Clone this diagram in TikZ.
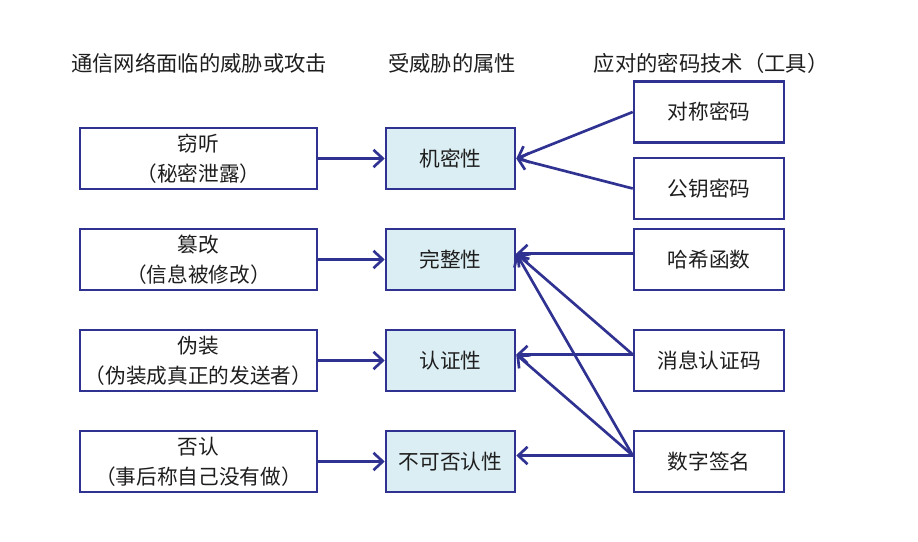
\documentclass[tikz,border=0pt]{standalone}
\usepackage{fontspec}
\setmainfont{Noto Sans CJK SC}
\usetikzlibrary{arrows.meta}
\definecolor{edgeblue}{RGB}{48,50,145}
\definecolor{fillblue}{RGB}{219,238,243}
\definecolor{txt}{RGB}{30,30,30}
\tikzset{
  box/.style={draw=edgeblue, line width=1.9pt, rectangle, inner sep=0pt,
    minimum height=45.75pt, align=center, font=\fontsize{15.5}{22.5}\selectfont, text=txt},
  lbox/.style={box, fill=white, minimum width=177.75pt},
  mbox/.style={box, fill=fillblue, minimum width=96.75pt},
  rbox/.style={box, fill=white, minimum width=112.5pt},
  head/.style={font=\fontsize{16}{20}\selectfont, text=txt, inner sep=0pt},
  conn/.style={draw=edgeblue, line width=2pt, -{Straight Barb[length=7pt,width=13pt,line width=2pt]}}
}
\begin{document}
\begin{tikzpicture}[x=0.75pt,y=-0.75pt]
\useasboundingbox (0,0) rectangle (918,542);
% headers
\node[head] (h1) at (199,63) {通信网络面临的威胁或攻击};
\node[head] (h2) at (452,63) {受威胁的属性};
\node[head] (h3) at (711,63) {应对的密码技术（工具）};
% left boxes
\node[lbox] (l1) at (198.5,158.5) {窃听\\（秘密泄露）};
\node[lbox] (l2) at (198.5,259.5) {篡改\\（信息被修改）};
\node[lbox] (l3) at (198.5,360.5) {伪装\\（伪装成真正的发送者）};
\node[lbox] (l4) at (198.5,461.5) {否认\\（事后称自己没有做）};
% middle boxes
\node[mbox] (m1) at (450.5,158.5) {机密性};
\node[mbox] (m2) at (450.5,259.5) {完整性};
\node[mbox] (m3) at (450.5,360.5) {认证性};
\node[mbox] (m4) at (450.5,461.5) {不可否认性};
% right boxes
\node[rbox] (r1) at (709,112) {对称密码};
\node[rbox] (r2) at (709,188.5) {公钥密码};
\node[rbox] (r3) at (709,259.5) {哈希函数};
\node[rbox] (r4) at (709,360.5) {消息认证码};
\node[rbox] (r5) at (709,461.5) {数字签名};
% anchor points
\coordinate (m2in) at ([yshift=4.5pt]m2.east);
\coordinate (m3in) at ([yshift=4.5pt]m3.east);
\coordinate (m4in) at ([yshift=4.5pt]m4.east);
\coordinate (r3out) at ([yshift=4.5pt]r3.west);
\coordinate (r4out) at ([yshift=4.5pt]r4.west);
\coordinate (r5out) at ([yshift=4.5pt]r5.west);
% left arrows
\draw[conn] (l1.east) -- (m1.west);
\draw[conn] (l2.east) -- (m2.west);
\draw[conn] (l3.east) -- (m3.west);
\draw[conn] (l4.east) -- (m4.west);
% right arrows
\draw[conn] (r1.west) -- (m1.east);
\draw[conn] (r2.west) -- (m1.east);
\draw[conn] (r3out) -- (m2in);
\draw[conn] (r4out) -- (m2in);
\draw[conn] (r4out) -- (m3in);
\draw[conn] (r5out) -- (m2in);
\draw[conn] (r5out) -- (m3in);
\draw[conn] (r5out) -- (m4in);
\end{tikzpicture}
\end{document}
